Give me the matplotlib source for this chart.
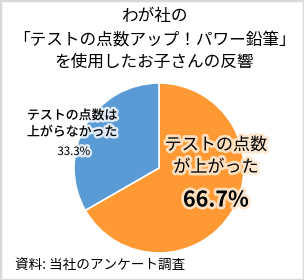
import matplotlib
matplotlib.use("Agg")
import matplotlib.pyplot as plt
import matplotlib.patheffects as pe
from matplotlib.patches import Rectangle

plt.rcParams['font.family'] = ['Noto Sans CJK JP', 'DejaVu Sans']

categories = ["テストの点数\nが上がった", "テストの点数は\n上がらなかった"]
values = [66.7, 33.3]
colors = ["#FF9933", "#5B9BD5"]
title_lines = ["わが社の", "「テストの点数アップ！パワー鉛筆」", "を使用したお子さんの反響"]
source = "資料: 当社のアンケート調査"

W, H = 304, 280
fig = plt.figure(figsize=(W / 100, H / 100), dpi=100)
fig.patch.set_facecolor("white")

# pie axes: center (159,168), radius 85
cx, cy, r = 159, 168, 85
ax = fig.add_axes([(cx - r) / W, 1 - (cy + r) / H, 2 * r / W, 2 * r / H])
ax.pie(values, colors=colors, startangle=90, counterclock=False,
       wedgeprops=dict(edgecolor="white", linewidth=1.2))
ax.set_xlim(-1, 1)
ax.set_ylim(-1, 1)
ax.set_aspect("auto")
ax.axis("off")

glow = [pe.withStroke(linewidth=3.5, foreground="white", alpha=0.8)]
glow_o = [pe.withStroke(linewidth=4, foreground="#FFE6CC", alpha=0.9)]

# title
for txt, y in zip(title_lines, [16, 40, 62]):
    fig.text(154 / W, 1 - y / H, txt, ha="center", va="center", fontsize=12, color="black")

# blue label
fig.text(72 / W, 1 - 124 / H, categories[1], ha="center", va="center", fontsize=9.3,
         fontweight="medium", color="black", linespacing=1.35, path_effects=glow)
fig.text(74 / W, 1 - 152 / H, f"{values[1]}%", ha="center", va="center", fontsize=8.2,
         color="black", path_effects=glow)

# orange label
fig.text(216 / W, 1 - 156 / H, categories[0], ha="center", va="center", fontsize=12.3,
         color="black", linespacing=1.3, path_effects=glow_o)
fig.text(216 / W, 1 - 200 / H, f"{values[0]}%", ha="center", va="center", fontsize=15.5,
         fontweight="bold", color="black", path_effects=glow_o)

# source
fig.text(15 / W, 1 - 265 / H, source, ha="left", va="center", fontsize=9.8, color="black")

# border
fig.patches.append(Rectangle((0, 0), 1, 1, transform=fig.transFigure, fill=False,
                             edgecolor="#D9D9D9", linewidth=2.5))

fig.savefig("out.png", dpi=100)
